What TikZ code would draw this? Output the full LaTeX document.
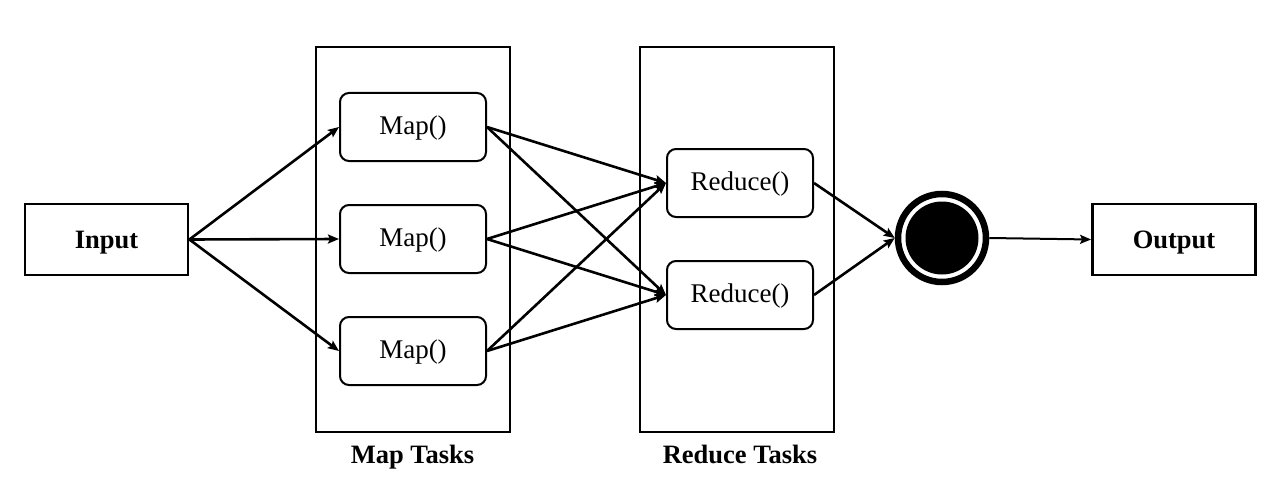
\documentclass[tikz,border=0pt]{standalone}
\usepackage{fontspec}
\setmainfont{Liberation Serif}
\usetikzlibrary{arrows.meta}
\tikzset{
  box/.style={draw, line width=2.8pt, inner sep=0pt, minimum width=163pt, minimum height=71pt, text height=17.5pt, text depth=0pt, font=\fontsize{26.5}{30}\selectfont\bfseries},
  task/.style={draw, line width=2pt, rounded corners=9pt, inner sep=0pt, minimum width=146pt, minimum height=68pt, text height=15.5pt, text depth=0pt, font=\fontsize{27}{30}\selectfont},
  container/.style={draw, line width=2.8pt, inner sep=0pt, minimum width=194pt, minimum height=385pt},
  lbl/.style={font=\fontsize{26.5}{30}\selectfont\bfseries, inner sep=0pt, anchor=base},
  arr/.style={line width=2.6pt, -{Stealth[length=11pt,width=9pt,inset=2pt]}}
}
\begin{document}
\begin{tikzpicture}[x=1pt,y=-1pt]
\useasboundingbox (0,0) rectangle (1286,503);
\node[container] (mapc) at (413,239.5) {};
\node[container] (redc) at (737,239.5) {};
\node[lbl] (maplbl) at (412.5,463.5) {Map Tasks};
\node[lbl] (redlbl) at (740,463.5) {Reduce Tasks};
\node[box] (in) at (106.5,239.5) {Input};
\node[box] (out) at (1174,239.5) {Output};
\node[task] (m1) at (413,127) {Map()};
\node[task] (m2) at (413,239) {Map()};
\node[task] (m3) at (413,351) {Map()};
\node[task] (r1) at (740,183) {Reduce()};
\node[task] (r2) at (740,295) {Reduce()};
\node[circle, draw, line width=6.5pt, minimum size=88pt, inner sep=0pt] (end) at (942,238) {};
\node[circle, fill=black, minimum size=73pt, inner sep=0pt] (endin) at (end.center) {};
\draw[arr] (in.east) -- (m1.west);
\draw[arr] (in.east) -- (m2.west);
\draw[arr] (in.east) -- (m3.west);
\foreach \m in {m1,m2,m3}{
  \draw[arr] (\m.east) -- (r1.west);
  \draw[arr] (\m.east) -- (r2.west);
}
\draw[arr] (r1.east) -- (end.west);
\draw[arr] (r2.east) -- (end.west);
\draw[line width=2pt, -{Stealth[length=11pt,width=9pt,inset=2pt]}] (end.east) -- (out.west);
\end{tikzpicture}
\end{document}
